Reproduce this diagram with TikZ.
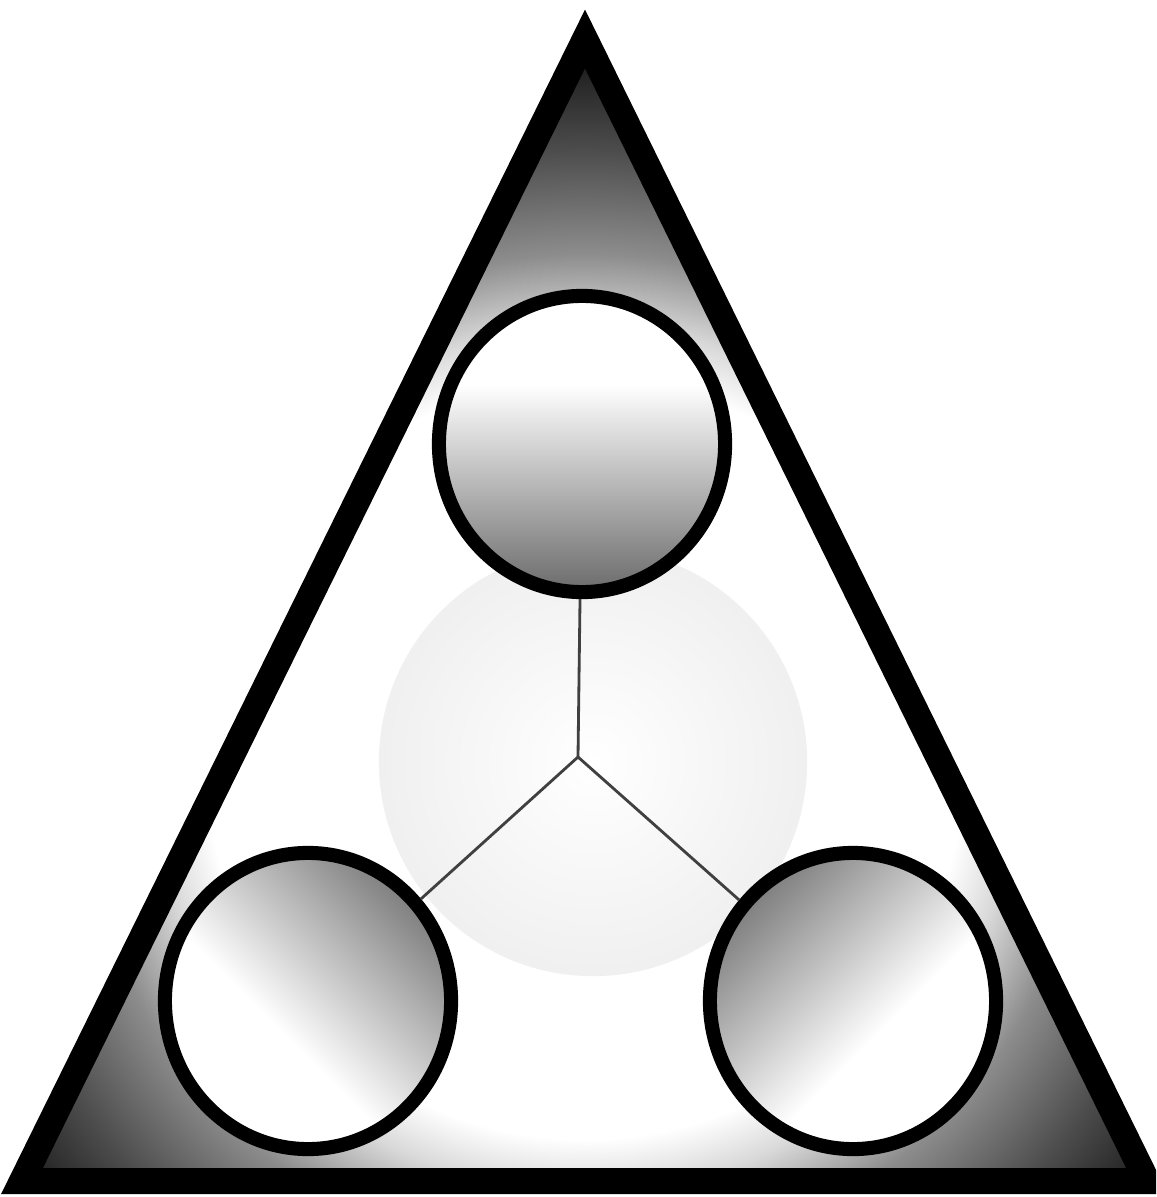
\documentclass[tikz,border=0pt]{standalone}
\usetikzlibrary{shapes.geometric}
\pgfdeclareradialshading{cornerglow}{\pgfpoint{0bp}{0bp}}{color(0bp)=(white); color(12.8bp)=(white); color(14.6bp)=(black!15); color(17.1bp)=(black!45); color(20.6bp)=(black!70); color(23bp)=(black!85); color(25bp)=(black); color(50bp)=(black)}
\pgfdeclareverticalshading{ringfade}{100bp}{color(0bp)=(black!60); color(24bp)=(black!60); color(60bp)=(white); color(100bp)=(white)}
\pgfdeclareverticalshading{ringtilt}{100bp}{color(0bp)=(white); color(43bp)=(white); color(82bp)=(black!62); color(100bp)=(black!62)}
\tikzset{
  ring/.style={draw=black, ellipse, line width=4pt, inner sep=0pt,
               minimum width=2.86cm, minimum height=2.96cm},
  link/.style={draw=black!75, line width=0.8pt},
  frame/.style={draw=black, line width=7.4pt, line join=miter},
}

\begin{document}
\begin{tikzpicture}[x=0.01cm, y=-0.01cm]
\useasboundingbox (0,0) rectangle (1156,1197);
\clip (0,0) rectangle (1156,1197);
\fill[white] (0,0) rectangle (1156,1197);

% corners of the triangle
\coordinate (apex) at (585,39);
\coordinate (bl) at (22,1181);
\coordinate (br) at (1147,1181);

% dark corners fading to white
\begin{scope}
  \clip (apex) -- (bl) -- (br) -- cycle;
  \shade[shading=cornerglow] (585,760) circle (7.4cm);
\end{scope}

% faint disc behind the links
\shade[inner color=white, outer color=black!6] (593,762) circle (2.14cm);

% the three rings
\node[ring, shading=ringfade] (top) at (582,444) {};
\node[ring, shading=ringtilt, shading angle=-45] (lc) at (308,1001) {};
\node[ring, shading=ringtilt, shading angle=45] (rc) at (853,1001) {};

% links
\coordinate (hub) at (578,757);
\draw[link] (top) -- (hub) -- (lc);
\draw[link] (hub) -- (rc);

% outline
\draw[frame] (apex) -- (bl) -- (br) -- cycle;

\end{tikzpicture}
\end{document}
